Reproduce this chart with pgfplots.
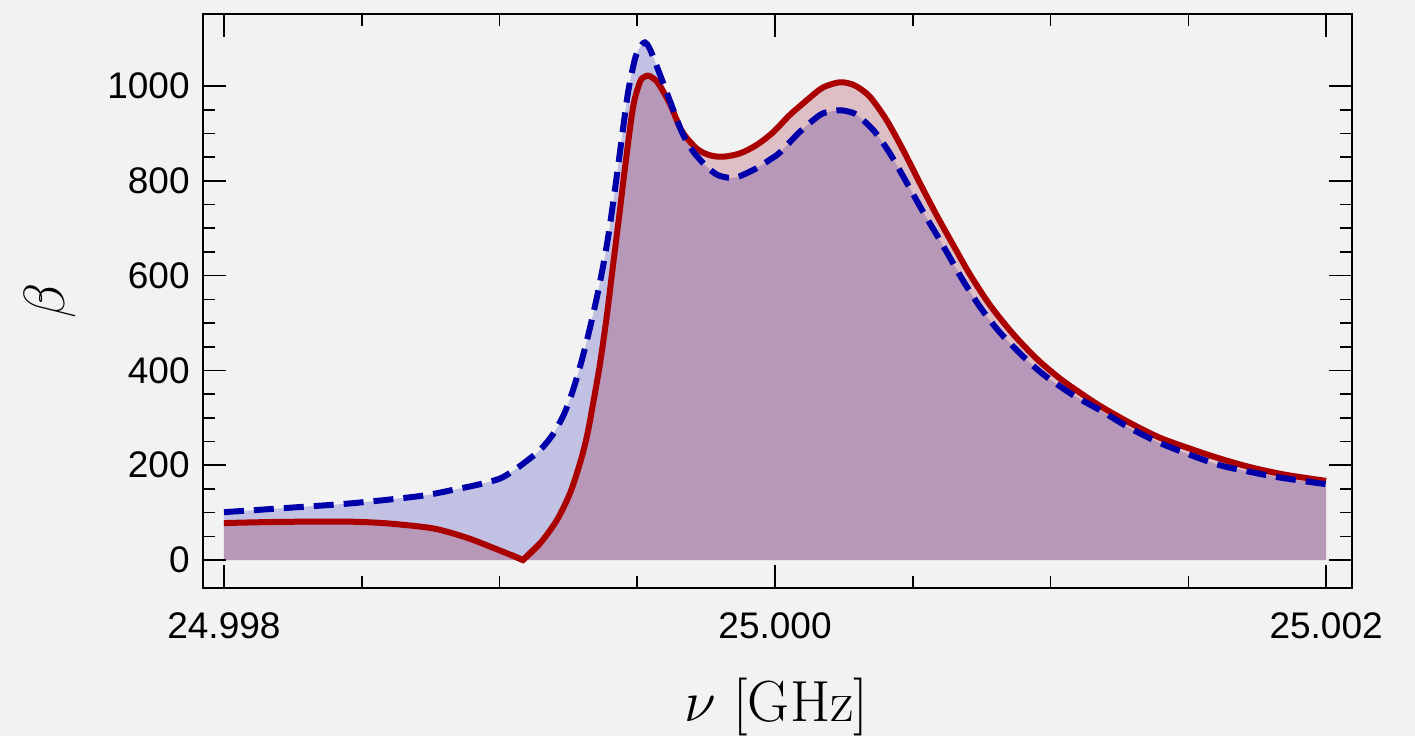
\documentclass[border=0pt]{standalone}
\usepackage{fix-cm}
\usepackage[no-math]{fontspec}
\newfontfamily\arial{Liberation Sans}
\usepackage{pgfplots}
\usepackage{pgfplotstable}
\pgfplotsset{compat=1.18}

\definecolor{bgc}{HTML}{F2F2F2}
\definecolor{dred}{HTML}{AA0000}
\definecolor{dblue}{HTML}{0000AA}
\definecolor{redfill}{RGB}{150,10,40}

\newcommand\tickfont{\fontsize{18.5}{22}\selectfont\arial}
\newcommand\labelfont{\fontsize{29}{33}\selectfont}

% nu - 25 GHz in MHz, beta; the red curve has a cusp at its zero
\pgfplotstableread{
u b
-2.000 78
-1.851 80
-1.700 81
-1.550 81
-1.450 79
-1.361 75
-1.234 66
-1.118 47
-1.024 26
-0.955 10
-0.915 0
}\redleft

\pgfplotstableread{
u b
-0.915 0
-0.853 35
-0.792 84
-0.744 141
-0.708 204
-0.683 260
-0.660 331
-0.635 415
-0.611 513
-0.587 626
-0.563 738
-0.544 830
-0.515 956
-0.490 1009
-0.475 1019
-0.461 1022
-0.446 1018
-0.424 1006
-0.381 962
-0.338 905
-0.284 868
-0.236 854
-0.188 851
-0.127 858
-0.066 876
-0.006 903
0.050 937
0.091 958
0.163 993
0.200 1003
0.236 1008
0.266 1006
0.297 999
0.345 977
0.405 928
0.465 865
0.526 795
0.588 726
0.653 658
0.708 602
0.780 538
0.864 477
0.951 424
1.034 383
1.107 353
1.180 325
1.289 289
1.397 258
1.506 235
1.615 214
1.724 196
1.833 182
1.906 175
2.000 167
}\redright

\pgfplotstableread{
u b
-0.955 10
-0.915 0
-0.853 35
}\redcusp

\pgfplotstableread{
u b
-2.000 101
-1.771 110
-1.532 120
-1.289 135
-1.169 148
-1.071 160
-0.998 172
-0.951 188
-0.915 203
-0.853 232
-0.805 266
-0.768 305
-0.744 340
-0.720 383
-0.696 433
-0.672 489
-0.647 553
-0.623 623
-0.605 684
-0.587 756
-0.569 833
-0.552 908
-0.533 988
-0.508 1058
-0.490 1082
-0.472 1092
-0.454 1078
-0.424 1034
-0.381 968
-0.338 903
-0.297 862
-0.248 830
-0.207 812
-0.160 806
-0.127 810
-0.066 827
-0.018 845
0.018 860
0.091 904
0.163 939
0.200 946
0.236 949
0.267 946
0.297 939
0.357 907
0.417 858
0.479 795
0.537 735
0.588 685
0.628 645
0.682 590
0.744 534
0.809 485
0.889 436
0.973 392
1.082 348
1.180 316
1.289 278
1.397 247
1.506 222
1.615 200
1.724 186
1.833 174
2.000 160
}\bluedata

\begin{document}
\begin{tikzpicture}
\fill[bgc] (-101.5pt,-74pt) rectangle (606pt,294pt);
\useasboundingbox (-101.5pt,-74pt) rectangle (606pt,294pt);
\begin{axis}[
  at={(0,0)}, anchor=south west,
  scale only axis, width=574.5pt, height=287pt,
  xmin=-2.076, xmax=2.094, ymin=-59, ymax=1152,
  axis line style={black, line width=1.1pt},
  tick align=inside,
  xtick={-2,0,2}, xticklabels={24.998,25.000,25.002},
  minor xtick={-1.5,-1,-0.5,0.5,1,1.5},
  ytick={0,200,...,1000}, minor y tick num=3,
  major tick length=11.5pt, minor tick length=6pt,
  every tick/.style={black, line width=0.8pt},
  ticklabel style={font=\tickfont},
  /pgf/number format/assume math mode=true,
  /pgf/number format/1000 sep={},
  xticklabel style={inner sep=0pt, yshift=-12pt},
  yticklabel style={inner sep=0pt, xshift=-6.5pt},
  xlabel={$\nu\ [\mathrm{GHz}]$},
  ylabel={$\beta$},
  every axis x label/.style={at={(axis description cs:0.499,-0.232)}, anchor=base, font=\labelfont},
  every axis y label/.style={at={(axis description cs:-0.1332,0.5)}, rotate=90, anchor=center, font=\labelfont},
]
% filled areas under both curves
\addplot[draw=none, fill=dblue, fill opacity=0.2, smooth] table[x=u, y=b]{\bluedata} \closedcycle;
\addplot[draw=none, fill=redfill, fill opacity=0.22, smooth] table[x=u, y=b]{\redleft} \closedcycle;
\addplot[draw=none, fill=redfill, fill opacity=0.22, smooth] table[x=u, y=b]{\redright} \closedcycle;
% curves
\addplot[dred, line width=3pt, smooth] table[x=u, y=b]{\redleft};
\addplot[dred, line width=3pt, smooth] table[x=u, y=b]{\redright};
\addplot[dred, line width=3pt, line join=miter] table[x=u, y=b]{\redcusp};
\addplot[dblue, line width=3pt, smooth, dash pattern=on 10pt off 5pt] table[x=u, y=b]{\bluedata};
\end{axis}
\end{tikzpicture}
\end{document}
